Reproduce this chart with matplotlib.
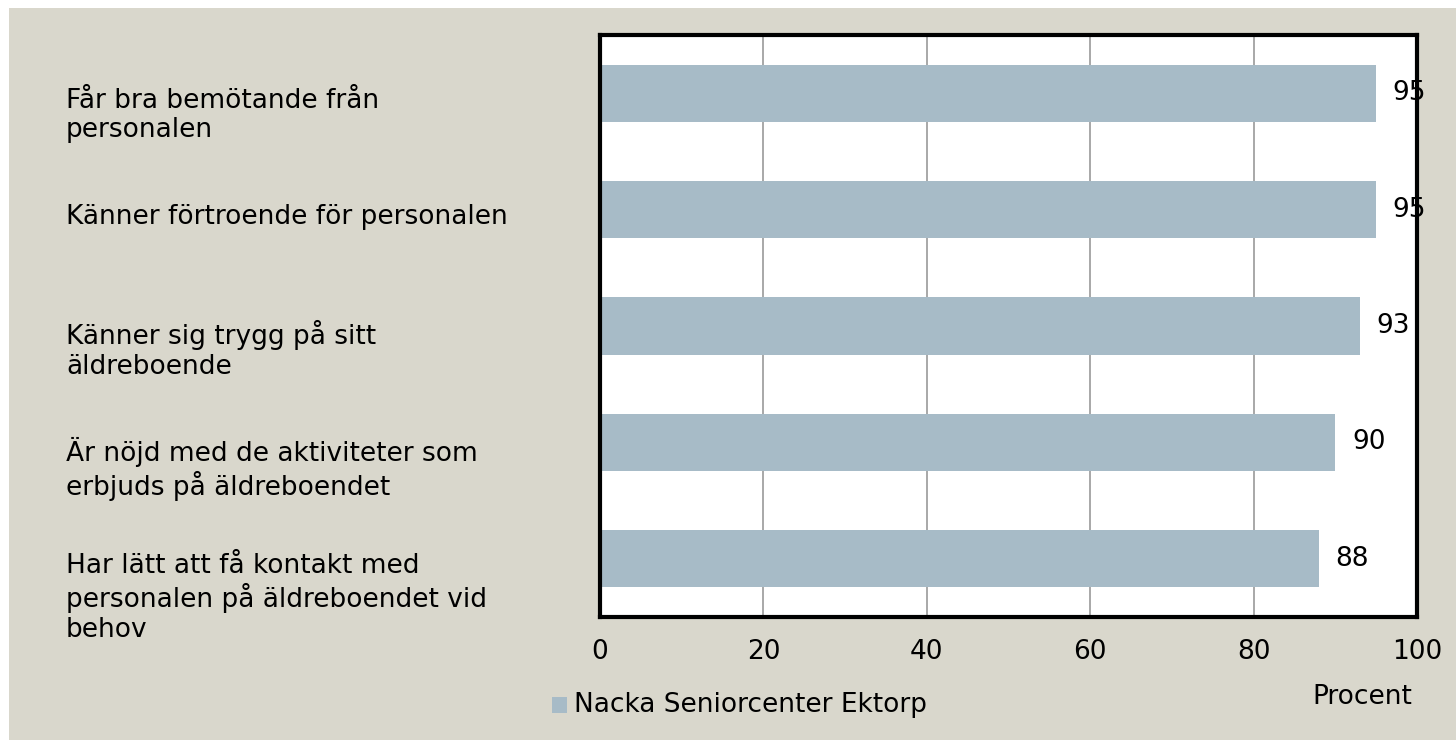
import matplotlib
matplotlib.use("Agg")
import matplotlib.pyplot as plt
from matplotlib.patches import Rectangle
from matplotlib.transforms import blended_transform_factory, offset_copy

categories = [
    "Får bra bemötande från\npersonalen",
    "Känner förtroende för personalen",
    "Känner sig trygg på sitt\näldreboende",
    "Är nöjd med de aktiviteter som\nerbjuds på äldreboendet",
    "Har lätt att få kontakt med\npersonalen på äldreboendet vid\nbehov",
]
values = [95, 95, 93, 90, 88]
series_name = "Nacka Seniorcenter Ektorp"
xticks = [0, 20, 40, 60, 80, 100]
xlabel = "Procent"

BG = "#D9D7CC"
BAR = "#A7BBC7"
FONT = "DejaVu Sans"
FS = 19

W, H = 1456, 740
fig = plt.figure(figsize=(W / 100, H / 100), dpi=100, facecolor="white")
fig.patches.append(Rectangle((9 / W, 0), 1 - 9 / W, 1 - 8 / H, transform=fig.transFigure,
                             facecolor=BG, edgecolor="none", zorder=-10))

ax = fig.add_axes([600 / W, 1 - 617 / H, (1417 - 600) / W, (617 - 35) / H])
ax.set_facecolor("white")
y = list(range(len(categories)))
ax.barh(y, values, height=0.49, color=BAR, zorder=2)
ax.set_xlim(0, 100)
ax.set_ylim(len(categories) - 0.5, -0.5)
ax.set_xticks(xticks)
ax.set_xticklabels([str(t) for t in xticks], fontsize=FS, family=FONT)
ax.tick_params(axis="x", length=0, pad=16, labelcolor="black")
ax.set_yticks([])
ax.grid(axis="x", color="#999999", linewidth=1.2, zorder=1)
for s in ax.spines.values():
    s.set_linewidth(3)
    s.set_color("black")
    s.set_zorder(5)

for yi, v in zip(y, values):
    ax.annotate(str(v), (v, yi), xytext=(12, 0), textcoords="offset points",
                va="center", ha="left", fontsize=FS, family=FONT, zorder=6,
                annotation_clip=False)

tr = blended_transform_factory(fig.transFigure, ax.transData)
tr = offset_copy(tr, fig=fig, x=0, y=4, units="points")
for yi, c in zip(y, categories):
    ax.text(66 / W, yi, c, transform=tr, va="top", ha="left", fontsize=FS,
            family=FONT, linespacing=1.17, clip_on=False)

# legend
fig.patches.append(Rectangle((552 / W, 1 - 713 / H), 15 / W, 16 / H, transform=fig.transFigure,
                             facecolor=BAR, edgecolor="none"))
fig.text(574 / W, 1 - 705 / H, series_name, va="center", ha="left", fontsize=FS, family=FONT)
fig.text(1412 / W, 1 - 697 / H, xlabel, va="center", ha="right", fontsize=FS, family=FONT)

fig.savefig("out.png", dpi=100, facecolor=fig.get_facecolor())
